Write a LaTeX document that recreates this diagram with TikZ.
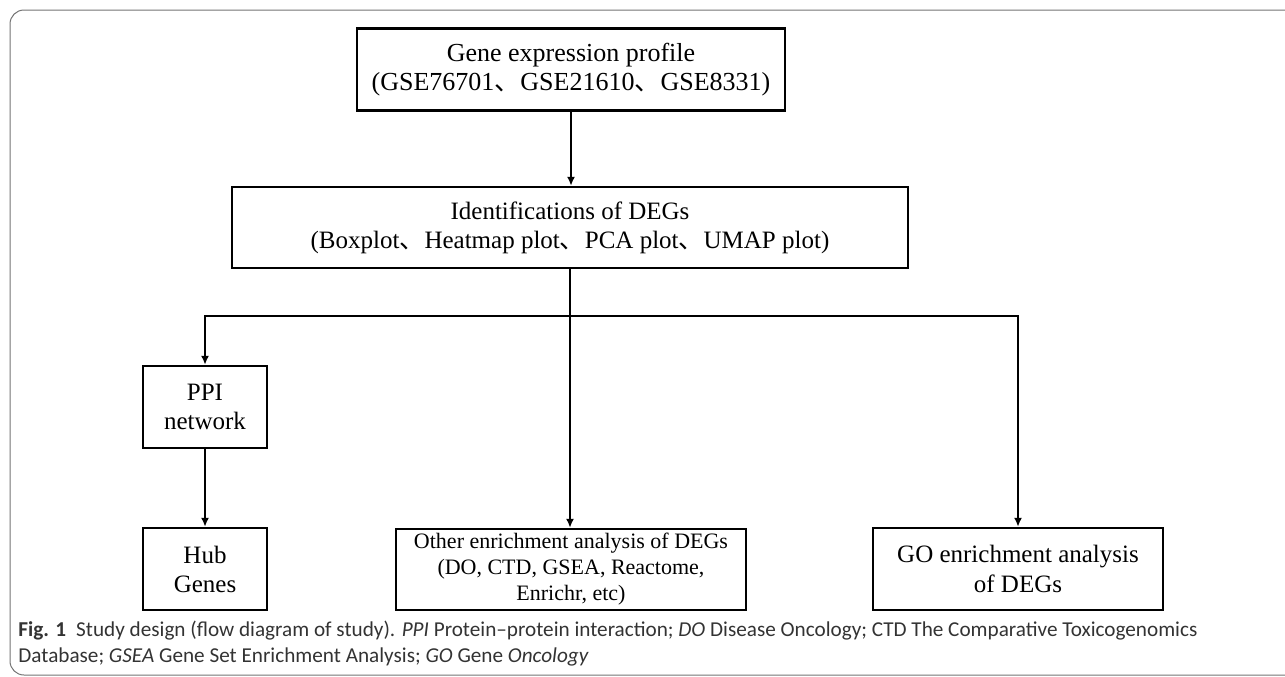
\documentclass[tikz,border=0pt]{standalone}
\usepackage{fontspec}
\setmainfont{Liberation Serif}
\newfontfamily\capfont{Carlito}
\newfontfamily\cjk{Noto Sans CJK SC}
\usetikzlibrary{arrows.meta}
\newcommand{\dunhao}{{\cjk 、}}

\begin{document}
\begin{tikzpicture}[x=0.5pt,y=-0.5pt,
box/.style={draw,line width=1.2pt,align=center,inner sep=0pt,minimum height=41pt,
  font=\fontsize{12.5}{14.5}\selectfont},
arr/.style={line width=1.2pt,-{Latex[length=4.5pt,width=4pt]}}]
\useasboundingbox (0,0) rectangle (1285,676);
\draw[line width=0.5pt,black!55,rounded corners=7pt] (10,10) rectangle (1320,675);

\node[box,minimum width=214pt,font=\fontsize{13}{14.5}\selectfont] (gene) at (571,69.5)
  {Gene expression profile\\(GSE76701\dunhao GSE21610\dunhao GSE8331)};
\node[box,minimum width=338pt,minimum height=40.5pt] (degs) at (570,227.5)
  {Identifications of DEGs\\(Boxplot\dunhao Heatmap plot\dunhao PCA plot\dunhao UMAP plot)};
\node[box,minimum width=62pt] (ppi) at (205,407) {PPI\\network};
\node[box,minimum width=62pt] (hub) at (205,569) {Hub\\Genes};
\node[box,minimum width=175pt,minimum height=40.5pt,font=\fontsize{11}{13}\selectfont] (other) at (571,569.5)
  {Other enrichment analysis of DEGs\\(DO, CTD, GSEA, Reactome,\\Enrichr, etc)};
\node[box,minimum width=145pt,font=\fontsize{12.5}{15}\selectfont] (go) at (1018,569)
  {GO enrichment analysis\\of DEGs};
\coordinate (split) at (570,316);

\draw[arr] (gene.south) -- (gene.south |- degs.north);
\draw[arr] (degs.south) -- (degs.south |- other.north);
\draw[arr] (split) -| (ppi.north);
\draw[arr] (split) -| (go.north);
\draw[arr] (ppi) -- (hub);

\begin{scope}[every node/.style={anchor=base west,inner sep=0pt,text=black!80,
  font=\capfont\fontsize{10.6}{12}\selectfont}]
\node (cap1) at (18,636) {\textbf{Fig. 1}\hspace{5pt}Study design (flow diagram of study). \textit{PPI} Protein–protein interaction; \textit{DO} Disease Oncology; CTD The Comparative Toxicogenomics};
\node (cap2) at (18,662) {Database; \textit{GSEA} Gene Set Enrichment Analysis; \textit{GO} Gene \textit{Oncology}};
\end{scope}
\end{tikzpicture}
\end{document}
